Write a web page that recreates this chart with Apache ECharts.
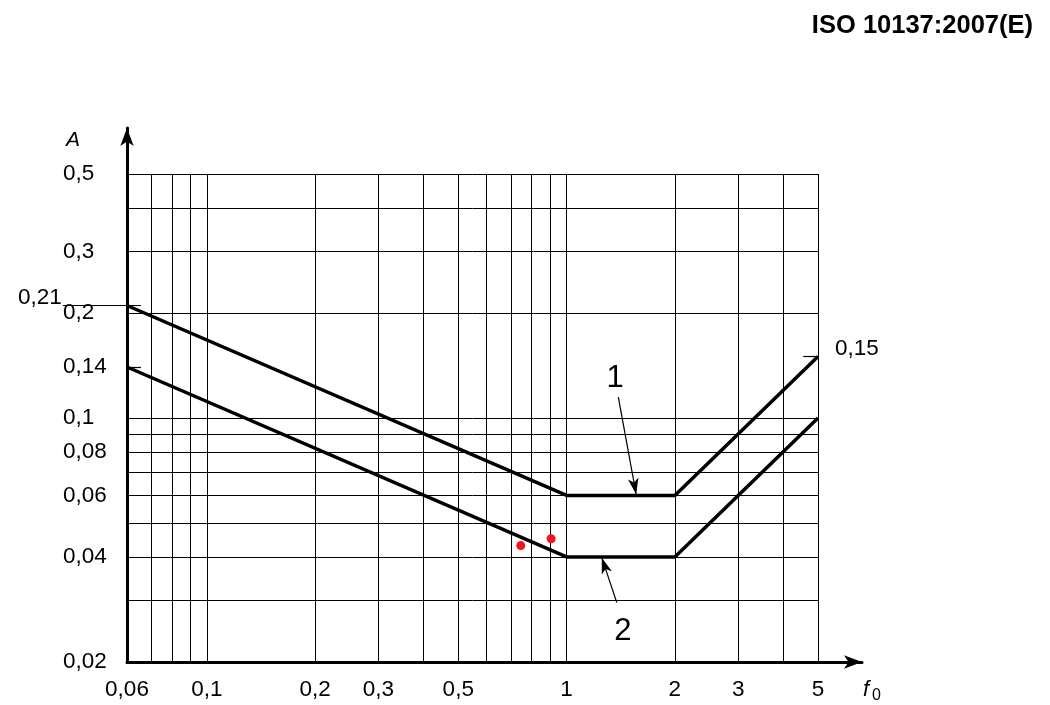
<!DOCTYPE html>
<html><head><meta charset="utf-8">
<script src="https://cdn.jsdelivr.net/npm/echarts@6/dist/echarts.min.js"></script>
<style>html,body{margin:0;padding:0;background:#fff}#c{width:1050px;height:705px}</style>
</head><body><div id="c"></div>
<script>
// ---- data ----
const curve1X = [0.06, 1, 2, 5];
const curve1Y = [0.21, 0.06, 0.06, 0.15];
const curve2X = [0.06, 1, 2, 5];
const curve2Y = [0.14, 0.04, 0.04, 0.10];
const redPointX = [0.746, 0.906];
const redPointY = [0.0431, 0.0451];
const xTickLabels = [0.06, 0.1, 0.2, 0.3, 0.5, 1, 2, 3, 5];
const yTickLabels = [0.02, 0.04, 0.06, 0.08, 0.1, 0.14, 0.2, 0.3, 0.5];
const xGridValues = [0.06, 0.07, 0.08, 0.09, 0.1, 0.2, 0.3, 0.4, 0.5, 0.6, 0.7, 0.8, 0.9, 1, 2, 3, 4, 5];
const yGridValues = [0.02, 0.03, 0.04, 0.05, 0.06, 0.07, 0.08, 0.09, 0.1, 0.2, 0.3, 0.4, 0.5];
const curveNames = ['1', '2'];
const curveLabelX = [1.364, 1.435];
const curveLabelY = [0.1295, 0.0244];
const arrowFromX = [1.393, 1.379];
const arrowFromY = [0.1147, 0.0296];
const arrowToX = [1.561, 1.253];
const arrowToY = [0.0605, 0.0398];
// marked values with leader ticks
const leftLeaderY = 0.21, leftLeaderFromX = 0.0398, leftLeaderToX = 0.0656;
const shortTickY = 0.14, shortTickFromX = 0.06, shortTickToX = 0.0656;
const rightLeaderY = 0.15, rightLeaderFromX = 4.55, rightLeaderToX = 5;

const FONT = 'Liberation Sans, Arial, Helvetica, sans-serif';
const LABEL_SIZE = 22.5;
const fmt = v => String(+(+v).toPrecision(6)).replace('.', ',');

const chart = echarts.init(document.getElementById('c'), null, {renderer: 'canvas'});

const gridLines = [];
xGridValues.forEach(v => gridLines.push({xAxis: v}));
yGridValues.forEach(v => gridLines.push({yAxis: v}));

const arrows = curveNames.map((n, i) => [
  {coord: [arrowFromX[i], arrowFromY[i]], symbol: 'none'},
  {coord: [arrowToX[i], arrowToY[i]], symbol: 'arrow', symbolSize: [8, 16]}
]);

const option = {
  animation: false,
  backgroundColor: '#fff',
  textStyle: {fontFamily: FONT, color: '#000'},
  title: {
    text: 'ISO 10137:2007(E)', right: 12, top: 8,
    textStyle: {fontFamily: FONT, fontSize: 25.5, fontWeight: 'bold', color: '#000'}
  },
  grid: [
    {left: 127, top: 174, width: 691, height: 488, containLabel: false, outerBoundsMode: 'none'},
    {left: 127, top: 128, width: 735, height: 534, containLabel: false, outerBoundsMode: 'none'}
  ],
  xAxis: [
    {
      type: 'log', logBase: 10, min: 0.06, max: 5, gridIndex: 0,
      axisLine: {show: false}, axisTick: {show: false}, splitLine: {show: false}, minorTick: {show: false},
      axisLabel: {
        customValues: xTickLabels, formatter: v => fmt(v), margin: 16,
        fontFamily: FONT, fontSize: LABEL_SIZE, color: '#000', showMinLabel: true, showMaxLabel: true, hideOverlap: false
      }
    },
    {
      type: 'value', min: 0, max: 1, gridIndex: 1,
      axisLine: {show: true, onZero: false, symbol: ['none', 'arrow'], symbolSize: [10, 18],
        lineStyle: {color: '#000', width: 3}},
      axisTick: {show: false}, axisLabel: {show: false}, splitLine: {show: false},
      name: '{f|f}{s|0}', nameLocation: 'end', nameGap: 1,
      nameTextStyle: {
        verticalAlign: 'top', align: 'left', padding: [13, 0, 0, 0],
        rich: {
          f: {fontFamily: FONT, fontSize: 22, fontStyle: 'italic', color: '#000'},
          s: {fontFamily: FONT, fontSize: 16, color: '#000', padding: [13, 0, 0, 3]}
        }
      }
    }
  ],
  yAxis: [
    {
      type: 'log', logBase: 10, min: 0.02, max: 0.5, gridIndex: 0,
      axisLine: {show: false}, axisTick: {show: false}, splitLine: {show: false}, minorTick: {show: false},
      axisLabel: {
        customValues: yTickLabels, formatter: v => fmt(v), margin: 64, align: 'left', padding: [4, 0, 0, 0],
        fontFamily: FONT, fontSize: LABEL_SIZE, color: '#000', showMinLabel: true, showMaxLabel: true, hideOverlap: false
      }
    },
    {
      type: 'value', min: 0, max: 1, gridIndex: 1,
      axisLine: {show: true, onZero: false, symbol: ['none', 'arrow'], symbolSize: [10, 18],
        lineStyle: {color: '#000', width: 3}},
      axisTick: {show: false}, axisLabel: {show: false}, splitLine: {show: false},
      name: 'A', nameLocation: 'end', nameGap: -12,
      nameTextStyle: {fontFamily: FONT, fontSize: 21, fontStyle: 'italic', color: '#000',
        align: 'center', verticalAlign: 'middle', padding: [0, 108, 0, 0]}
    }
  ],
  series: [
    {
      name: 'grid', type: 'line', xAxisIndex: 0, yAxisIndex: 0, z: 1,
      data: [[0.06, 0.02]], symbol: 'none', lineStyle: {opacity: 0}, silent: true,
      markLine: {
        silent: true, symbol: ['none', 'none'], animation: false, z: 1,
        label: {show: false},
        lineStyle: {color: '#000', width: 1, type: 'solid'},
        emphasis: {disabled: true},
        data: gridLines
      }
    },
    {
      name: 'curve1', type: 'line', xAxisIndex: 0, yAxisIndex: 0, z: 3,
      data: curve1X.map((x, i) => [x, curve1Y[i]]),
      symbol: 'none', lineStyle: {color: '#000', width: 3.5}
    },
    {
      name: 'curve2', type: 'line', xAxisIndex: 0, yAxisIndex: 0, z: 3,
      data: curve2X.map((x, i) => [x, curve2Y[i]]),
      symbol: 'none', lineStyle: {color: '#000', width: 3.5}
    },
    {
      name: 'points', type: 'scatter', xAxisIndex: 0, yAxisIndex: 0, z: 4,
      data: redPointX.map((x, i) => [x, redPointY[i]]),
      symbol: 'circle', symbolSize: 9, itemStyle: {color: '#f0141e', opacity: 1}
    },
    {
      name: 'annotations', type: 'scatter', xAxisIndex: 0, yAxisIndex: 0, z: 5, clip: false,
      data: curveNames.map((n, i) => [curveLabelX[i], curveLabelY[i], n]),
      symbolSize: 0.1, itemStyle: {color: '#000', opacity: 1},
      label: {show: true, position: 'inside', formatter: p => p.value[2],
        fontFamily: FONT, fontSize: 31, color: '#000', opacity: 1},
      markLine: {
        silent: true, animation: false, z: 5,
        symbol: ['none', 'arrow'],
        lineStyle: {color: '#000', width: 1.2, type: 'solid'},
        itemStyle: {color: '#000'},
        label: {show: false},
        emphasis: {disabled: true},
        data: arrows.concat([
          [
            {coord: [shortTickFromX, shortTickY], symbol: 'none'},
            {coord: [shortTickToX, shortTickY], symbol: 'none'}
          ],
          [
            {coord: [rightLeaderFromX, rightLeaderY], symbol: 'none'},
            {coord: [rightLeaderToX, rightLeaderY], symbol: 'none'}
          ]
        ])
      }
    }
  ]
};
chart.setOption(option);

// leader line + value labels placed through the chart's own scales
const px = (x, y) => chart.convertToPixel({xAxisIndex: 0, yAxisIndex: 0}, [x, y]);
const l0 = px(leftLeaderFromX, leftLeaderY), l1 = px(leftLeaderToX, leftLeaderY);
const r1 = px(rightLeaderToX, rightLeaderY);
const textFont = LABEL_SIZE + 'px ' + FONT;
chart.setOption({
  graphic: [
    {type: 'line', z: 10, silent: true,
      shape: {x1: l0[0], y1: l0[1], x2: l1[0], y2: l1[1]},
      style: {stroke: '#000', lineWidth: 1}},
    {type: 'text', z: 10, silent: true, x: l0[0] - 1, y: l0[1] - 8,
      style: {text: fmt(leftLeaderY), font: textFont, fill: '#000',
        align: 'right', verticalAlign: 'middle', textAlign: 'right', textVerticalAlign: 'middle'}},
    {type: 'text', z: 10, silent: true, x: r1[0] + 17, y: r1[1] - 8,
      style: {text: fmt(rightLeaderY), font: textFont, fill: '#000',
        align: 'left', verticalAlign: 'middle', textAlign: 'left', textVerticalAlign: 'middle'}}
  ]
});
</script>
</body></html>
